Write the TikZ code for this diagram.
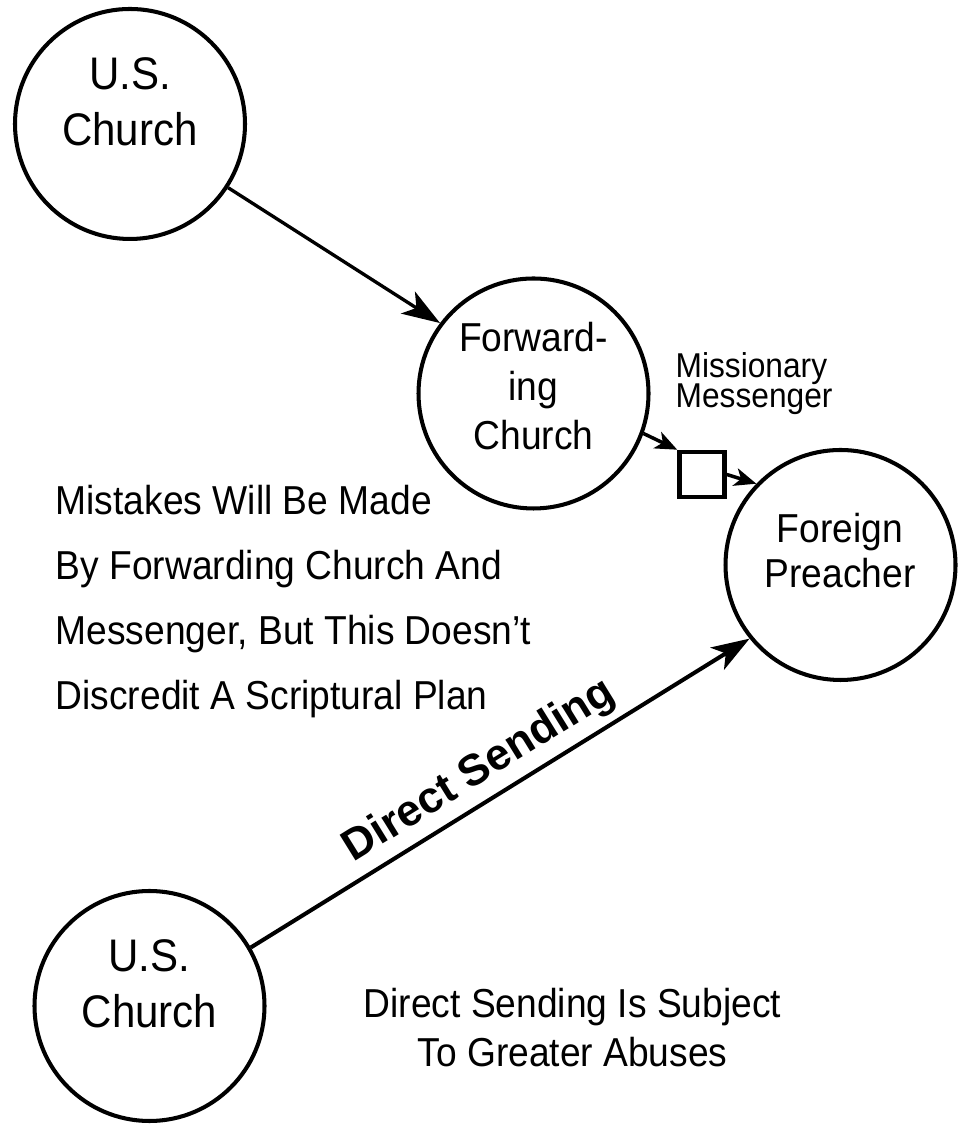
\documentclass[tikz,border=0pt]{standalone}
\usepackage{fontspec}
\setmainfont{Liberation Sans}[FakeStretch=0.92]
\newfontfamily\wideface{Liberation Sans}
\usetikzlibrary{arrows.meta}
\setlength{\lineskiplimit}{-5pt}

\begin{document}
\begin{tikzpicture}[>={Stealth[length=3.8mm, width=2.6mm, inset=1mm]},
  church/.style={circle, draw, line width=1.15pt, minimum size=2.3cm, inner sep=0pt},
  words/.style={inner sep=0pt, align=center},
  msgbox/.style={rectangle, draw, line width=1.3pt, minimum size=0.45cm, inner sep=0pt},
  shortarrow/.style={-{Stealth[length=2.2mm, width=1.8mm, inset=0.6mm]}, line width=1pt}]
  \useasboundingbox (0,0) rectangle (9.68,11.24);
  % Churches and preacher
  \node[church] (us1) at (1.30,10.00) {};
  \node[church] (fwd) at (5.335,7.305) {};
  \node[church] (fpr) at (8.405,5.59) {};
  \node[church] (us2) at (1.495,1.18) {};
  \node[words, font=\fontsize{13}{15.9}\selectfont] (us1txt) at (1.30,10.225) {U.S.\\Church};
  \node[words, font=\fontsize{11.5}{13.9}\selectfont] (fwdtxt) at (5.335,7.38) {Forward-\\ing\\Church};
  \node[words, font=\fontsize{11.5}{12.8}\selectfont] (fprtxt) at (8.40,5.73) {Foreign\\Preacher};
  \node[words, font=\fontsize{13}{15.9}\selectfont] (us2txt) at (1.495,1.40) {U.S.\\Church};
  % Messenger box
  \node[msgbox] (msg) at (7.02,6.495) {};
  \node[words, align=left, anchor=west, font=\fontsize{9.8}{8.6}\selectfont]
    (msgtxt) at (6.75,7.40) {Missionary\\Messenger};
  % Notes
  \node[words, align=left, anchor=west, font=\fontsize{11.5}{18.5}\selectfont] (mistakes) at (0.55,5.2225)
    {Mistakes Will Be Made\\By Forwarding Church And\\Messenger, But This Doesn’t\\Discredit A Scriptural Plan};
  \node[words, font=\fontsize{11.5}{13.9}\selectfont] (abuses) at (5.725,0.965)
    {Direct Sending Is Subject\\To Greater Abuses};
  % Arrows
  \draw[->, line width=0.95pt] (us1.-33) -- (fwd.143);
  \draw[shortarrow] (fwd.-20) -- (msg.north west);
  \draw[shortarrow] (msg.east) -- (fpr.136);
  \draw[->, line width=1.15pt] (us2.30) -- (fpr.219)
    node[pos=0.49, above, sloped, inner sep=2pt, font=\wideface\bfseries\fontsize{12.5}{14}\selectfont] (direct) {Direct Sending};
\end{tikzpicture}
\end{document}
